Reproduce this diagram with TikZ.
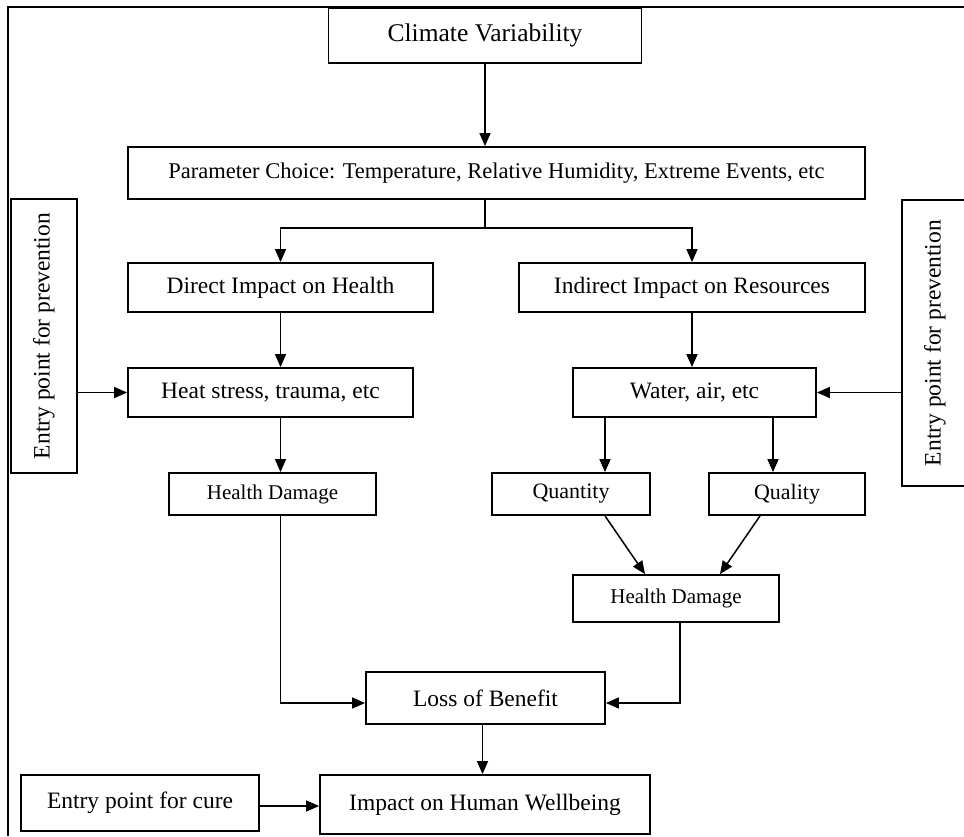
\documentclass[tikz,border=0pt]{standalone}
\usepackage{fontspec}
\usepackage{graphicx}
\setmainfont{Liberation Serif}
\usetikzlibrary{arrows.meta,calc}
\begin{document}
\begin{tikzpicture}[x=1pt,y=-1pt,
  box/.style 2 args={draw, line width=1.8pt, minimum width=#1, minimum height=#2,
    inner sep=0pt, font=\fontsize{23.5}{26}\selectfont},
  ln/.style={line width=1.5pt},
  arr/.style={line width=1.5pt, -{Triangle[length=13pt,width=11pt]}}]
\useasboundingbox (0,0) rectangle (964,836);
% outer frame
\draw[line width=1.8pt] (964,7) -- (8,7) -- (8,836);
% nodes
\node[box={313pt}{55pt}, font=\fontsize{25.5}{28}\selectfont] (clim) at (485,35.5) {Climate Variability};
\node[box={737pt}{52pt}, font=\fontsize{22.5}{25}\selectfont] (param) at (496.5,173) {Parameter Choice: Temperature, Relative Humidity, Extreme Events, etc};
\node[box={305pt}{49pt}] (direct) at (280.5,287.5) {Direct Impact on Health};
\node[box={346pt}{49pt}] (indirect) at (692,287.5) {Indirect Impact on Resources};
\node[box={285pt}{49pt}] (heat) at (270.5,392.5) {Heat stress, trauma, etc};
\node[box={243pt}{49pt}] (water) at (694.5,392.5) {Water, air, etc};
\node[box={66pt}{274pt}] (lent) at (44,336) {\rotatebox{90}{Entry point for prevention}};
\node[box={66pt}{286pt}] (rent) at (935,343) {\rotatebox{90}{Entry point for prevention}};
\node[box={207pt}{42pt}, font=\fontsize{21}{24}\selectfont] (hd1) at (272.5,494) {Health Damage};
\node[box={158pt}{42pt}, font=\fontsize{22}{24}\selectfont] (quantity) at (571,494) {Quantity};
\node[box={156pt}{42pt}, font=\fontsize{22}{24}\selectfont] (quality) at (787,494) {Quality};
\node[box={206pt}{47pt}, font=\fontsize{21}{24}\selectfont] (hd2) at (676,598.5) {Health Damage};
\node[box={239pt}{52pt}] (loss) at (485.5,698) {Loss of Benefit};
\node[box={330pt}{59pt}] (impact) at (485,804.5) {Impact on Human Wellbeing};
\node[box={238pt}{56pt}] (cure) at (140,803) {Entry point for cure};
% connectors
\draw[arr] (clim.south) -- (clim.south |- param.north);
\coordinate (split) at (485,228);
\draw[ln] (split |- param.south) -- (split);
\draw[arr] (split) -| (direct.north);
\draw[arr] (split) -| (indirect.north);
\draw[arr] (direct.south) -- (direct.south |- heat.north);
\draw[arr] (indirect.south) -- (indirect.south |- water.north);
\draw[arr] (lent.east |- heat.west) -- (heat.west);
\draw[arr] (rent.west |- water.east) -- (water.east);
\draw[arr] (direct.south |- heat.south) -- (direct.south |- hd1.north);
\draw[arr] ([xshift=34pt]quantity.north |- water.south) -- ([xshift=34pt]quantity.north);
\draw[arr] ([xshift=-14pt]quality.north |- water.south) -- ([xshift=-14pt]quality.north);
\draw[arr] ([xshift=34pt]quantity.south) -- ([xshift=-31pt]hd2.north);
\draw[arr] ([xshift=-27pt]quality.south) -- ([xshift=44pt]hd2.north);
\draw[arr] (direct.south |- hd1.south) |- ([yshift=-5pt]loss.west);
\draw[arr] ([xshift=4pt]hd2.south) |- ([yshift=-5pt]loss.east);
\draw[arr] ([xshift=-3pt]loss.south) -- ([xshift=-3pt]loss.south |- impact.north);
\draw[arr] ([yshift=-3pt]cure.east) -- ([yshift=-3pt]cure.east -| impact.west);
\end{tikzpicture}
\end{document}
